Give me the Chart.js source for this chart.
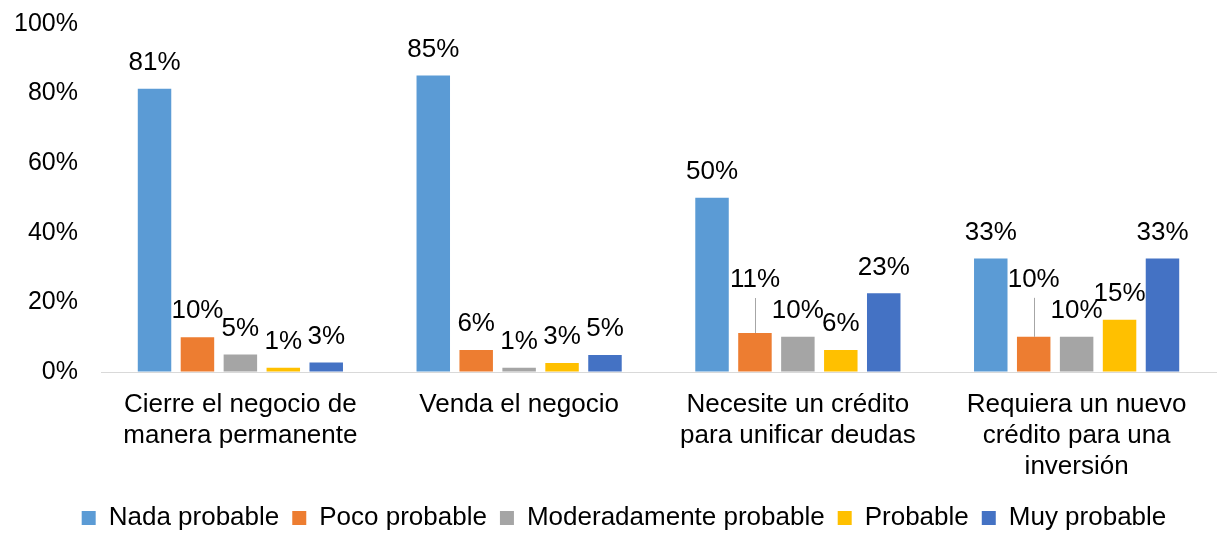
<!DOCTYPE html>
<html lang="es">
<head>
<meta charset="utf-8">
<title>Probabilidad de eventos</title>
<script src="https://cdn.jsdelivr.net/npm/chart.js@4.4.1/dist/chart.umd.min.js"></script>
<style>
    html, body { margin: 0; padding: 0; background: #ffffff; }
    #wrap { width: 1217px; height: 533px; position: relative; }
</style>
</head>
<body>
<div id="wrap"><canvas id="probChart"></canvas></div>
<script>
// categories (multi-line labels as in the original)
const categories = [
    ['Cierre el negocio de', 'manera permanente'],
    ['Venda el negocio'],
    ['Necesite un crédito', 'para unificar deudas'],
    ['Requiera un nuevo', 'crédito para una', 'inversión']
];
const seriesNames = ['Nada probable', 'Poco probable', 'Moderadamente probable', 'Probable', 'Muy probable'];

// values in %
const nadaProbable = [81.4, 85.2, 50.1, 32.6];
const pocoProbable = [10.0, 6.3, 11.2, 10.1];
const moderadamenteProbable = [5.0, 1.2, 10.1, 10.1];
const probable = [1.2, 2.6, 6.3, 15.0];
const muyProbable = [2.7, 4.9, 22.6, 32.6];

const yTicks = [0, 20, 40, 60, 80, 100];

const colors = ['#5B9BD5', '#ED7D31', '#A5A5A5', '#FFC000', '#4472C4'];
const FONT = "'Liberation Sans', Arial, sans-serif";

// labels that sit higher, with a leader line down to the bar ("dataset-index": extra lift)
const liftedLabels = { '1-2': 27, '1-3': 31 };

const valueLabels = {
    id: 'valueLabels',
    afterDatasetsDraw(chart) {
        const ctx = chart.ctx;
        ctx.save();
        ctx.font = '26px ' + FONT;
        ctx.fillStyle = '#000000';
        ctx.textAlign = 'center';
        ctx.textBaseline = 'middle';
        chart.data.datasets.forEach(function(ds, di) {
            const meta = chart.getDatasetMeta(di);
            meta.data.forEach(function(bar, i) {
                const lift = liftedLabels[di + '-' + i] || 0;
                const y = bar.y - 26 - lift;
                if (lift) {
                    ctx.strokeStyle = '#A6A6A6';
                    ctx.lineWidth = 1;
                    ctx.beginPath();
                    ctx.moveTo(Math.round(bar.x) + 0.5, y + 18);
                    ctx.lineTo(Math.round(bar.x) + 0.5, bar.y);
                    ctx.stroke();
                }
                ctx.fillText(Math.round(ds.data[i]) + '%', bar.x, y);
            });
        });
        ctx.restore();
    }
};

// the original legend is centred a little right of the canvas centre
const legendShift = {
    id: 'legendShift',
    afterLayout(chart) {
        if (chart.legend) chart.legend.left += 32;
    }
};

const allSeries = [nadaProbable, pocoProbable, moderadamenteProbable, probable, muyProbable];

new Chart(document.getElementById('probChart'), {
    type: 'bar',
    data: {
        labels: categories,
        datasets: allSeries.map(function(vals, k) {
            return {
                label: seriesNames[k],
                data: vals,
                backgroundColor: colors[k],
                categoryPercentage: 0.77,
                barPercentage: 0.78
            };
        })
    },
    options: {
        responsive: true,
        maintainAspectRatio: false,
        animation: false,
        layout: { padding: { top: 24, right: 1, left: 0, bottom: -8 } },
        scales: {
            x: {
                grid: { display: false, drawTicks: false },
                border: { display: true, color: '#D9D9D9', width: 1 },
                ticks: {
                    color: '#000000',
                    font: { family: FONT, size: 26, lineHeight: 1.2 },
                    padding: 17,
                    autoSkip: false,
                    maxRotation: 0,
                    minRotation: 0
                },
                afterFit(scale) { scale.height = 120; }
            },
            y: {
                min: 0,
                max: 100,
                // invisible grid, its tick length gives the gap between labels and bars
                grid: { display: true, color: 'rgba(0,0,0,0)', drawTicks: true, tickLength: 23 },
                border: { display: false },
                afterBuildTicks(scale) {
                    scale.ticks = yTicks.map(function(v) { return { value: v }; });
                },
                ticks: {
                    color: '#000000',
                    font: { family: FONT, size: 25 },
                    padding: 0,
                    callback: function(v) { return v + '%'; }
                },
                afterFit(scale) { scale.width = 101; }
            }
        },
        plugins: {
            legend: {
                position: 'bottom',
                labels: {
                    color: '#000000',
                    font: { family: FONT, size: 26 },
                    boxWidth: 14,
                    boxHeight: 14,
                    padding: 13
                }
            },
            tooltip: { enabled: false }
        }
    },
    plugins: [valueLabels, legendShift]
});
</script>
</body>
</html>
